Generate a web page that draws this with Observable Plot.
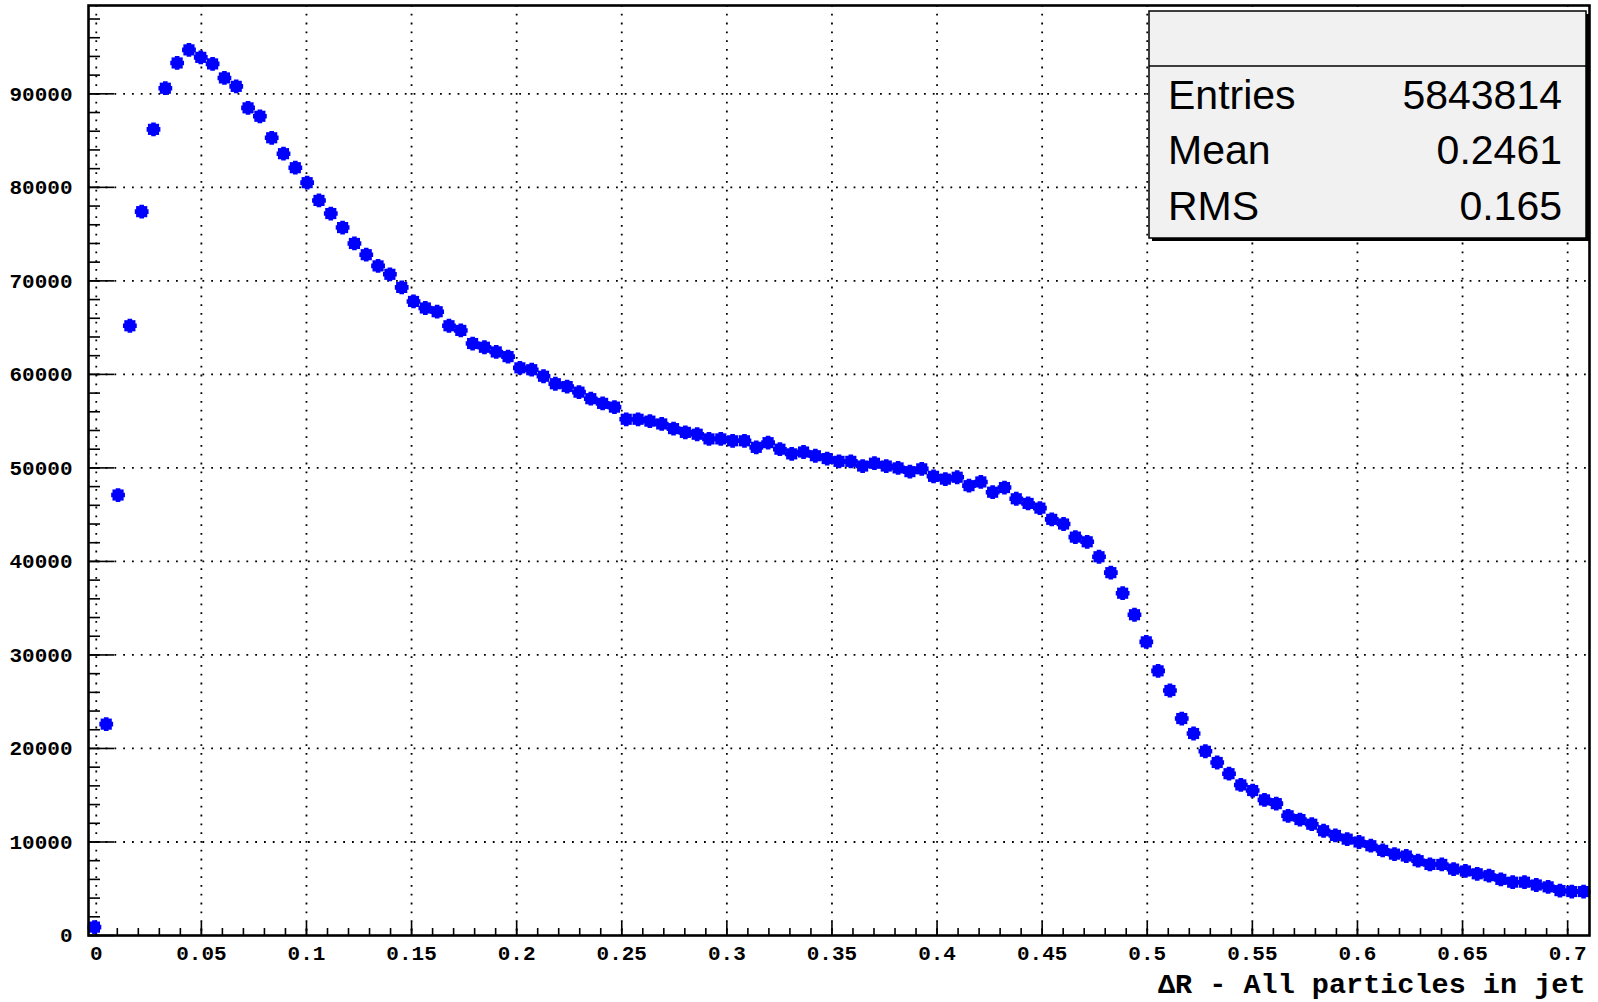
<!DOCTYPE html>
<html><head><meta charset="utf-8">
<script src="https://cdn.jsdelivr.net/npm/d3@7"></script>
<script src="https://cdn.jsdelivr.net/npm/@observablehq/plot@0.6"></script>
<style>html,body{margin:0;padding:0;background:#fff} #chart svg{display:block}</style>
</head><body><div id="chart"></div>
<script>
// Histogram counts per bin
const counts = [
  900, 22600, 47100, 65200, 77400, 86200, 90600, 93300, 94700, 93900,
  93200, 91700, 90800, 88500, 87600, 85300, 83600, 82100, 80500, 78600,
  77200, 75700, 74000, 72800, 71600, 70700, 69300, 67800, 67100, 66700,
  65200, 64700, 63300, 62900, 62400, 61900, 60700, 60500, 59800, 59000,
  58700, 58100, 57400, 56900, 56500, 55200, 55200, 55000, 54700, 54200,
  53800, 53600, 53100, 53100, 52900, 52900, 52200, 52700, 52000, 51500,
  51700, 51300, 51000, 50700, 50700, 50200, 50500, 50200, 50000, 49600,
  49900, 49100, 48800, 49000, 48100, 48500, 47400, 47900, 46700, 46200,
  45700, 44500, 44000, 42600, 42100, 40500, 38800, 36600, 34300, 31400,
  28300, 26200, 23200, 21600, 19700, 18500, 17300, 16100, 15500, 14500,
  14100, 12800, 12400, 11900, 11200, 10700, 10300, 10000, 9600, 9100,
  8700, 8500, 8000, 7600, 7600, 7100, 6900, 6600, 6400, 6000,
  5700, 5700, 5400, 5200, 4800, 4700, 4700
];
// Histogram binning (axis range of the frame)
const xLow = -0.0037, xHigh = 0.7104;
const yMax = 99445;
const xMajorTicks = [0, 0.05, 0.1, 0.15, 0.2, 0.25, 0.3, 0.35, 0.4, 0.45, 0.5, 0.55, 0.6, 0.65, 0.7];
const xTickLabels = ["0", "0.05", "0.1", "0.15", "0.2", "0.25", "0.3", "0.35", "0.4", "0.45", "0.5", "0.55", "0.6", "0.65", "0.7"];
const yMajorTicks = [0, 10000, 20000, 30000, 40000, 50000, 60000, 70000, 80000, 90000];
const yTickLabels = ["0", "10000", "20000", "30000", "40000", "50000", "60000", "70000", "80000", "90000"];
const xTitle = "\u0394R - All particles in jet";
const statsLabels = ["Entries", "Mean", "RMS"];
const statsValues = ["5843814", "0.2461", "0.165"];

const nBins = counts.length;
const binW = (xHigh - xLow) / nBins;
const data = counts.map((c, i) => ({x: xLow + (i + 0.5) * binW, y: c}));
const xMinor = d3.range(0, 71).map(k => k / 100);
const yMinor = d3.range(0, 50).map(k => k * 2000).filter(v => v <= yMax);
const xLabelMap = new Map(xMajorTicks.map((t, i) => [t, xTickLabels[i]]));
const yLabelMap = new Map(yMajorTicks.map((t, i) => [t, yTickLabels[i]]));

const W = 1598, H = 1002, ML = 88, MR = 9, MT = 5, MB = 67;
const fw = W - ML - MR, fh = H - MT - MB;
const tickFont = {fontFamily: "Liberation Mono", fontSize: 21, fontWeight: "bold"};

const plot = Plot.plot({
  width: W, height: H,
  marginLeft: ML, marginRight: MR, marginTop: MT, marginBottom: MB,
  style: {background: "#fff", color: "#000", fontFamily: "Liberation Mono"},
  x: {domain: [xLow, xHigh]},
  y: {domain: [0, yMax]},
  marks: [
    Plot.ruleX(xMajorTicks, {x: d => d, stroke: "#000", strokeWidth: 1.8, strokeDasharray: "1.8,7"}),
    Plot.ruleY(yMajorTicks.slice(1), {y: d => d, stroke: "#000", strokeWidth: 1.8, strokeDasharray: "1.8,7"}),
    Plot.tickX(xMinor, {x: d => d, stroke: "#000", strokeWidth: 1.6, insetTop: fh - 7}),
    Plot.tickX(xMajorTicks, {x: d => d, stroke: "#000", strokeWidth: 1.6, insetTop: fh - 13}),
    Plot.tickY(yMinor, {y: d => d, stroke: "#000", strokeWidth: 1.6, insetRight: fw - 12}),
    Plot.tickY(yMajorTicks, {y: d => d, stroke: "#000", strokeWidth: 1.6, insetRight: fw - 26}),
    Plot.dot(data, {x: "x", y: "y", symbol: "square", r: 6.3, fill: "#0000ff", stroke: "none"}),
    Plot.dot(data, {x: "x", y: "y", symbol: "cross", r: 5.8, fill: "#0000ff", stroke: "none"}),
    Plot.axisX(xMajorTicks, {anchor: "bottom", tickSize: 0, tickPadding: 10, label: null,
      tickFormat: d => xLabelMap.get(d), ...tickFont}),
    Plot.axisY(yMajorTicks, {anchor: "left", tickSize: 0, tickPadding: 16, label: null,
      tickFormat: d => yLabelMap.get(d), ...tickFont}),
    Plot.text([xTitle], {frameAnchor: "bottom-right", text: d => d, textAnchor: "end", lineAnchor: "middle",
      dx: -4, dy: 48, fontFamily: "Liberation Mono", fontSize: 28.5, fontWeight: "bold", fill: "#000"}),
    Plot.frame({stroke: "#000", strokeWidth: 2.6})
  ]
});

// Statistics box (ROOT-style)
const svg = d3.select(plot);
const g = svg.append("g").attr("text-anchor", "start");
const bx = 1149, by = 11, bw = 437, bh = 227;
g.append("rect").attr("x", bx + 3).attr("y", by + 3).attr("width", bw).attr("height", bh).attr("fill", "#000");
g.append("rect").attr("x", bx).attr("y", by).attr("width", bw).attr("height", bh)
  .attr("fill", "#f1f1f1").attr("stroke", "#000").attr("stroke-width", 1.5);
g.append("line").attr("x1", bx).attr("x2", bx + bw).attr("y1", 66).attr("y2", 66)
  .attr("stroke", "#000").attr("stroke-width", 1.5);
const baselines = [108.5, 164, 220];
statsLabels.forEach((t, i) => {
  g.append("text").attr("x", 1168).attr("y", baselines[i]).attr("text-anchor", "start").text(t)
    .attr("font-family", "Liberation Sans, Arial, sans-serif").attr("font-size", 41).attr("fill", "#000");
  g.append("text").attr("x", 1562).attr("y", baselines[i]).attr("text-anchor", "end").text(statsValues[i])
    .attr("font-family", "Liberation Sans, Arial, sans-serif").attr("font-size", 41).attr("fill", "#000");
});

document.getElementById("chart").appendChild(plot);
</script>
</body></html>
